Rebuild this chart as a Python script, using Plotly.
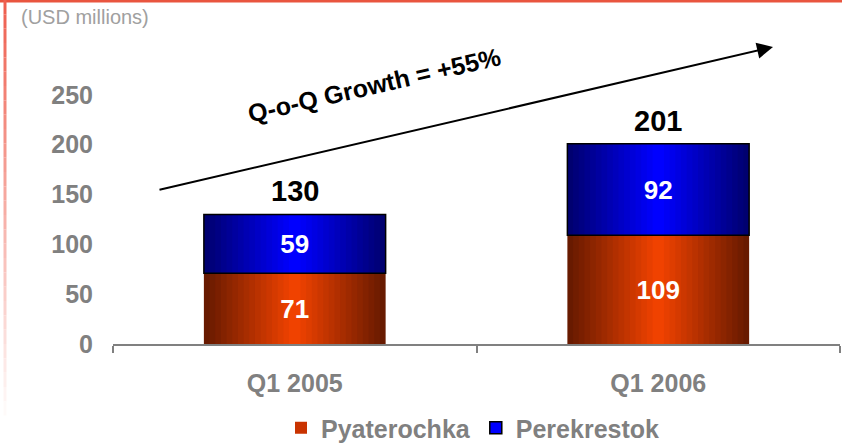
import plotly.graph_objects as go

# ---- data ----
categories = ["Q1 2005", "Q1 2006"]
pyaterochka = [71, 109]
perekrestok = [59, 92]
totals = [130, 201]
y_ticks = [0, 50, 100, 150, 200, 250]
growth_text = "Q-o-Q Growth = +55%"
unit_text = "(USD millions)"

FONT = "Liberation Sans, Arial, sans-serif"
GRAY = "#808080"

W, H = 842, 446
ML, MR, MT, MB = 113, 2, 45, 102
PW, PH = W - ML - MR, H - MT - MB


def px_to_paper(px, py):
    return (px - ML) / PW, (H - MB - py) / PH


def lerp(c1, c2, t):
    return "rgb(%d,%d,%d)" % tuple(round(a + (b - a) * t) for a, b in zip(c1, c2))


fig = go.Figure()

# legend-only entries
fig.add_bar(x=categories, y=[None, None], name="Pyaterochka",
            marker=dict(color="#C93300", line=dict(width=0)))
fig.add_bar(x=categories, y=[None, None], name="Perekrestok",
            marker=dict(color="#0000FF", line=dict(color="black", width=1.5)))

BAR_W = 0.5
N = 16
base_pyat = [0, 0]
series = [
    (pyaterochka, base_pyat, (104, 26, 0), (240, 66, 0)),
    (perekrestok, pyaterochka, (0, 0, 112), (0, 0, 255)),
]
for vals, base, edge, center in series:
    for k in range(N):
        frac = 1 - k / N
        t = k / (N - 1)
        fig.add_bar(x=categories, y=vals, base=base, width=BAR_W * frac,
                    marker=dict(color=lerp(edge, center, t), line=dict(width=0)),
                    showlegend=False, hoverinfo="skip")

# labels / outline layers
fig.add_bar(x=categories, y=pyaterochka, base=base_pyat, width=BAR_W,
            marker=dict(color="rgba(0,0,0,0)", line=dict(width=0)),
            text=[str(v) for v in pyaterochka], textposition="inside",
            insidetextanchor="middle",
            textfont=dict(family=FONT, size=26, color="white", weight="bold"),
            showlegend=False, hoverinfo="skip")
fig.add_bar(x=categories, y=perekrestok, base=pyaterochka, width=BAR_W,
            marker=dict(color="rgba(0,0,0,0)", line=dict(color="black", width=1.5)),
            text=[str(v) for v in perekrestok], textposition="inside",
            insidetextanchor="middle",
            textfont=dict(family=FONT, size=26, color="white", weight="bold"),
            showlegend=False, hoverinfo="skip")

annotations = []
for c, t in zip(categories, totals):
    annotations.append(dict(x=c, y=t, xref="x", yref="y", text=str(t),
                            showarrow=False, yanchor="bottom", yshift=5,
                            font=dict(family=FONT, size=29, color="black", weight="bold")))

# growth arrow
tip_x, tip_y = px_to_paper(773, 47)
annotations.append(dict(x=tip_x, y=tip_y, xref="paper", yref="paper", text="",
                        showarrow=True, ax=158 - 773, ay=190 - 47,
                        axref="pixel", ayref="pixel",
                        arrowhead=2, arrowsize=1.6, arrowwidth=2, arrowcolor="black",
                        standoff=0, startstandoff=0))
gx, gy = px_to_paper(374, 85)
annotations.append(dict(x=gx, y=gy, xref="paper", yref="paper", text=growth_text,
                        showarrow=False, textangle=-13, xanchor="center", yanchor="middle",
                        font=dict(family=FONT, size=25, color="black", weight="bold")))
ux, uy = px_to_paper(19, 17)
annotations.append(dict(x=ux, y=uy, xref="paper", yref="paper", text=unit_text,
                        showarrow=False, xanchor="left", yanchor="middle",
                        font=dict(family=FONT, size=20, color="#A0A0A0")))

shapes = []
x0, y0 = px_to_paper(0, 1)
x1, _ = px_to_paper(W, 1)
shapes.append(dict(type="line", xref="paper", yref="paper", x0=x0, x1=x1, y0=y0, y1=y0,
                   line=dict(color="#E9553F", width=3)))
# left fading border
NS = 30
for i in range(NS):
    pa = i * 430 / NS
    pb = (i + 1) * 430 / NS
    lx, ya = px_to_paper(5, pa)
    _, yb = px_to_paper(5, pb)
    shapes.append(dict(type="line", xref="paper", yref="paper", x0=lx, x1=lx, y0=ya, y1=yb,
                       line=dict(color=lerp((238, 96, 80), (255, 255, 255), i / (NS - 1)), width=3)))

lx, ly = px_to_paper(473, 428)

fig.update_layout(
    width=W, height=H,
    margin=dict(l=ML, r=MR, t=MT, b=MB, pad=0, autoexpand=False),
    paper_bgcolor="white", plot_bgcolor="white",
    barmode="overlay",
    font=dict(family=FONT, color=GRAY),
    showlegend=True,
    legend=dict(orientation="h", x=lx, y=ly, xanchor="center", yanchor="middle",
                font=dict(family=FONT, size=25, color=GRAY, weight="bold"),
                bgcolor="rgba(0,0,0,0)", traceorder="normal", itemwidth=30),
    xaxis=dict(showgrid=False, zeroline=False, showline=True, linecolor=GRAY, linewidth=2,
               ticks="outside", tickson="boundaries", ticklen=7, tickwidth=2, tickcolor=GRAY,
               tickfont=dict(family=FONT, size=25, color=GRAY, weight="bold"),
               ticklabelstandoff=16, fixedrange=True, automargin=False),
    yaxis=dict(range=[0, 300], tickvals=y_ticks, showgrid=False, zeroline=False,
               showline=False, ticks="",
               tickfont=dict(family=FONT, size=25, color=GRAY, weight="bold"),
               ticklabelstandoff=19, fixedrange=True, automargin=False),
    annotations=annotations,
    shapes=shapes,
)

fig.write_html("out.html", config={"displayModeBar": False},
               post_script="document.body.style.margin='0';document.body.style.overflow='hidden';")
